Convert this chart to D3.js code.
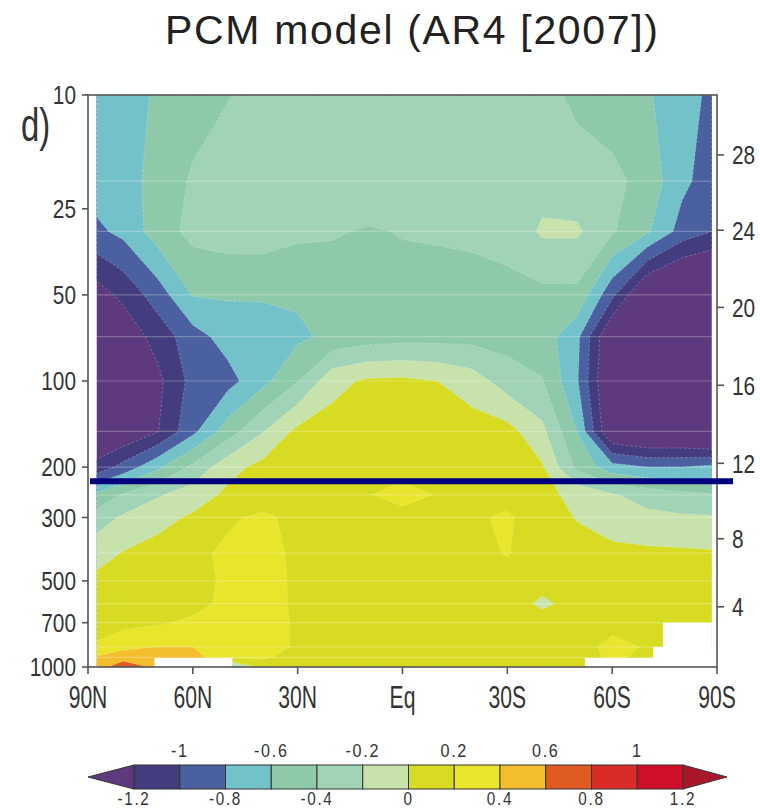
<!DOCTYPE html>
<html><head><meta charset="utf-8">
<script src="https://cdn.jsdelivr.net/npm/d3@7"></script>
<style>body{margin:0;background:#fff}svg{display:block}</style>
</head><body>
<svg id="chart" width="760" height="812"></svg>
<script>
// ---------------- data ----------------
const lats = [87.5, 80, 70, 60, 50, 40, 30, 20, 10, 0, -10, -20, -30, -40, -50, -60, -70, -80, -88.5];
const levels = [10, 20, 30, 50, 70, 100, 150, 200, 250, 300, 400, 500, 600, 700, 850, 925, 1000];
// temperature trend (rows = pressure levels, columns = latitudes)
const trend = [
 [-0.70,-0.66,-0.58,-0.50,-0.41,-0.33,-0.30,-0.28,-0.27,-0.27,-0.27,-0.28,-0.30,-0.34,-0.44,-0.52,-0.58,-0.70,-0.85],
 [-0.70,-0.66,-0.55,-0.37,-0.30,-0.27,-0.25,-0.24,-0.24,-0.24,-0.24,-0.25,-0.26,-0.28,-0.32,-0.34,-0.48,-0.75,-0.90],
 [-0.84,-0.75,-0.50,-0.34,-0.30,-0.30,-0.36,-0.38,-0.42,-0.39,-0.38,-0.37,-0.34,-0.17,-0.17,-0.38,-0.57,-0.88,-1.00],
 [-1.30,-1.15,-0.90,-0.59,-0.58,-0.58,-0.57,-0.52,-0.48,-0.47,-0.47,-0.46,-0.45,-0.45,-0.45,-0.95,-1.50,-1.65,-1.70],
 [-1.45,-1.35,-1.12,-0.88,-0.72,-0.70,-0.64,-0.55,-0.50,-0.47,-0.47,-0.47,-0.48,-0.50,-0.75,-1.45,-1.60,-1.65,-1.60],
 [-1.50,-1.45,-1.25,-0.93,-0.87,-0.66,-0.41,-0.06, 0.03, 0.04, 0.00,-0.10,-0.30,-0.39,-0.78,-1.50,-1.60,-1.65,-1.60],
 [-1.45,-1.40,-1.21,-0.85,-0.50,-0.21, 0.05, 0.08, 0.10, 0.10, 0.09, 0.09, 0.07,-0.15,-0.61,-1.45,-1.55,-1.55,-1.65],
 [-1.13,-0.93,-0.64,-0.35,-0.07, 0.06, 0.09, 0.10, 0.10, 0.13, 0.10, 0.09, 0.07, 0.02,-0.45,-0.72,-0.80,-0.80,-0.75],
 [-0.55,-0.38,-0.22,-0.10, 0.04, 0.08, 0.10, 0.11, 0.19, 0.26, 0.19, 0.12, 0.13, 0.05,-0.05,-0.18,-0.28,-0.35,-0.38],
 [-0.30,-0.17,-0.07, 0.03, 0.17, 0.24, 0.14, 0.12, 0.12, 0.14, 0.13, 0.17, 0.23, 0.08,-0.01,-0.10,-0.15,-0.17,-0.18],
 [-0.08, 0.01, 0.08, 0.15, 0.24, 0.27, 0.16, 0.12, 0.12, 0.12, 0.12, 0.15, 0.21, 0.10, 0.07, 0.05, 0.04, 0.03, 0.02],
 [ 0.05, 0.08, 0.10, 0.14, 0.23, 0.27, 0.17, 0.12, 0.11, 0.11, 0.11, 0.11, 0.14, 0.08, 0.08, 0.07, 0.06, 0.06, 0.06],
 [ 0.07, 0.10, 0.12, 0.15, 0.24, 0.27, 0.17, 0.12, 0.11, 0.10, 0.10, 0.10, 0.10,-0.04, 0.08, 0.08, 0.08, 0.08, 0.08],
 [ 0.10, 0.14, 0.18, 0.23, 0.26, 0.27, 0.18, 0.12, 0.11, 0.10, 0.10, 0.10, 0.10, 0.09, 0.10, 0.12, 0.10, 0.09, 0.09],
 [ 0.23, 0.34, 0.40, 0.40, 0.28, 0.27, 0.18, 0.12, 0.11, 0.10, 0.10, 0.10, 0.10, 0.09, 0.10, 0.27, 0.18, 0.09, 0.09],
 [ 0.42, 0.52, 0.52, 0.48, 0.25, 0.22, 0.15, 0.12, 0.11, 0.10, 0.10, 0.10, 0.10, 0.09, 0.10, 0.24, 0.15, 0.09, 0.09],
 [ 0.50, 0.72, 0.55, 0.45,-0.45, 0.12, 0.10, 0.11, 0.11, 0.10, 0.10, 0.10, 0.10, 0.09, 0.09, 0.10, 0.10, 0.09, 0.09]
];
const thresholds = [-1.2, -1.0, -0.8, -0.6, -0.4, -0.2, 0, 0.2, 0.4, 0.6, 0.8, 1.0, 1.2];
const bandColors = ["#5d3a7d", "#433d7f", "#4a60a0", "#74c2c9", "#8ecaa9", "#a1d3b6", "#c7e3ab",
                    "#d7dc22", "#e9e52b", "#f3bd2e", "#e05b22", "#d92b28", "#d0102a", "#a8182a"];
const xTickLats = [90, 60, 30, 0, -30, -60, -90];
const xTickLabels = ["90N", "60N", "30N", "Eq", "30S", "60S", "90S"];
const pTicks = [10, 25, 50, 100, 200, 300, 500, 700, 1000];
const altKm = [4, 8, 12, 16, 20, 24, 28];
const altP = [616, 356, 194, 103.5, 55.3, 29.7, 16.2];
const tropopauseP = 224;
// regions below ground (no data): northern lat, southern lat, top pressure
const gapLatN = [71, -52.2, -71.7, -74.5];
const gapLatS = [48.7, -88.5, -88.5, -88.5];
const gapTopP = [930, 930, 850, 700];
const cbUpper = [-1, -0.6, -0.2, 0.2, 0.6, 1];
const cbLower = [-1.2, -0.8, -0.4, 0, 0.4, 0.8, 1.2];
const titleText = "PCM model (AR4 [2007])";
const panelLabel = "d)";

// ---------------- layout ----------------
const svg = d3.select("#chart");
const x = d3.scaleLinear().domain([90, -90]).range([88, 717]);
const y = d3.scaleLog().domain([10, 1000]).range([95, 667]);
const nx = lats.length, ny = levels.length;

function latAt(u) {
  const s = Math.max(0, Math.min(nx - 1, u - 0.5));
  const i = Math.min(nx - 2, Math.floor(s)), f = s - i;
  return lats[i] + (lats[i + 1] - lats[i]) * f;
}
function presAt(v) {
  const s = Math.max(0, Math.min(ny - 1, v - 0.5));
  const j = Math.min(ny - 2, Math.floor(s)), f = s - j;
  return Math.pow(10, Math.log10(levels[j]) + (Math.log10(levels[j + 1]) - Math.log10(levels[j])) * f);
}
const proj = d3.geoTransform({ point(u, v) { this.stream.point(x(latAt(u)), y(presAt(v))); } });
const path = d3.geoPath(proj);

const flat = trend.flat();
const contours = d3.contours().size([nx, ny]).thresholds(thresholds)(flat);

const field = svg.append("g");
field.append("rect")
  .attr("x", x(lats[0])).attr("y", y(levels[0]))
  .attr("width", x(lats[nx - 1]) - x(lats[0]))
  .attr("height", y(levels[ny - 1]) - y(levels[0]))
  .attr("fill", bandColors[0]);
field.selectAll("path.band").data(contours).join("path")
  .attr("class", "band")
  .attr("d", path)
  .attr("fill", (d, i) => bandColors[i + 1])
  .attr("stroke", "rgba(255,255,255,0.3)")
  .attr("stroke-width", 0.8)
  .attr("stroke-dasharray", "2.5,2");

// faint seams along model levels
field.selectAll("line.seam").data(levels.slice(1, -1)).join("line")
  .attr("x1", x(lats[0])).attr("x2", x(lats[nx - 1]))
  .attr("y1", d => y(d)).attr("y2", d => y(d))
  .attr("stroke", "#fff").attr("stroke-opacity", 0.25).attr("stroke-width", 1.2);

// below-ground gaps
field.selectAll("rect.gap").data(gapLatN.map((n, i) => i)).join("rect")
  .attr("x", i => x(gapLatN[i])).attr("width", i => x(gapLatS[i]) - x(gapLatN[i]))
  .attr("y", i => y(gapTopP[i])).attr("height", i => y(1000) - y(gapTopP[i]))
  .attr("fill", "#fff");

// frame
svg.append("rect").attr("x", x(90)).attr("y", y(10))
  .attr("width", x(-90) - x(90)).attr("height", y(1000) - y(10))
  .attr("fill", "none").attr("stroke", "#555").attr("stroke-width", 1.6);

function label(g, px, py, txt, size, sx, anchor, fill) {
  return g.append("text")
    .attr("transform", `translate(${px},${py}) scale(${sx},1)`)
    .attr("text-anchor", anchor)
    .attr("font-family", "Liberation Sans, Arial, sans-serif")
    .attr("font-size", size)
    .attr("fill", fill || "#333")
    .text(txt);
}

const axes = svg.append("g").attr("stroke", "#555").attr("stroke-width", 1.6);
pTicks.forEach(p => {
  axes.append("line").attr("x1", x(90) - 6).attr("x2", x(90)).attr("y1", y(p)).attr("y2", y(p));
  label(svg, x(90) - 12, y(p) + 9.3, String(p), 26, 0.8, "end");
});
altKm.forEach((k, i) => {
  axes.append("line").attr("x1", x(-90)).attr("x2", x(-90) + 7).attr("y1", y(altP[i])).attr("y2", y(altP[i]));
  label(svg, x(-90) + 15, y(altP[i]) + 9.3, String(k), 26, 0.8, "start");
});
xTickLats.forEach((l, i) => {
  axes.append("line").attr("x1", x(l)).attr("x2", x(l)).attr("y1", y(1000)).attr("y2", y(1000) + 7);
  label(svg, x(l), 708, xTickLabels[i], 32, 0.66, "middle");
});

// tropopause line
svg.append("line")
  .attr("x1", x(90) + 2).attr("x2", x(-90) + 16)
  .attr("y1", y(tropopauseP)).attr("y2", y(tropopauseP))
  .attr("stroke", "#00007f").attr("stroke-width", 6);

// panel label & title
label(svg, 21, 141, panelLabel, 47, 0.7, "start", "#333");
svg.append("text").attr("x", 411.5).attr("y", 44)
  .attr("text-anchor", "middle")
  .attr("font-family", "Liberation Sans, Arial, sans-serif")
  .attr("font-size", 41).attr("fill", "#222")
  .attr("textLength", 493).attr("lengthAdjust", "spacing")
  .text(titleText);

// ---------------- colorbar ----------------
const cb = d3.scaleLinear().domain([-1.2, 1.2]).range([134, 683]);
const cbTop = 765, cbH = 24;
const cbg = svg.append("g");
const inner = thresholds.slice(0, -1);
cbg.selectAll("rect").data(inner).join("rect")
  .attr("x", d => cb(d)).attr("width", (d, i) => cb(thresholds[i + 1]) - cb(d))
  .attr("y", cbTop).attr("height", cbH)
  .attr("fill", (d, i) => bandColors[i + 1])
  .attr("stroke", "#333").attr("stroke-width", 1);
cbg.append("path")
  .attr("d", `M${cb(-1.2)},${cbTop}L${cb(-1.2) - 46},${cbTop + cbH / 2}L${cb(-1.2)},${cbTop + cbH}Z`)
  .attr("fill", bandColors[0]).attr("stroke", "#333").attr("stroke-width", 1);
cbg.append("path")
  .attr("d", `M${cb(1.2)},${cbTop}L${cb(1.2) + 44},${cbTop + cbH / 2}L${cb(1.2)},${cbTop + cbH}Z`)
  .attr("fill", bandColors[13]).attr("stroke", "#333").attr("stroke-width", 1);
const fmt = v => (v === 0 ? "0" : String(v));
cbUpper.forEach(v => label(cbg, cb(v), 757, fmt(v), 19, 0.85, "middle", "#333").attr("letter-spacing", 2));
cbLower.forEach(v => label(cbg, cb(v), 805, fmt(v), 18, 0.85, "middle", "#333").attr("letter-spacing", 2));
</script>
</body></html>
